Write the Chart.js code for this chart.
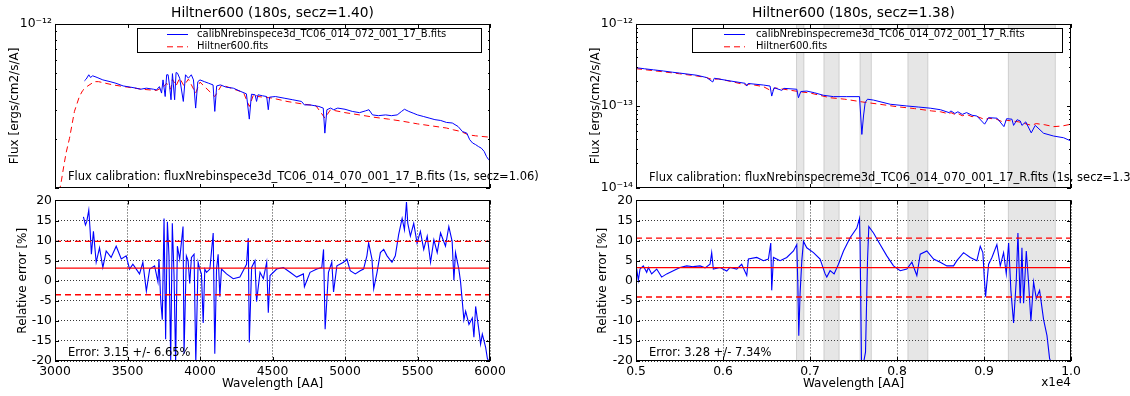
<!DOCTYPE html>
<html>
<head>
<meta charset="utf-8">
<script src="https://cdn.jsdelivr.net/npm/chart.js@4.4.0/dist/chart.umd.min.js"></script>
<style>
  body { margin: 0; background: #fff; width: 1130px; height: 396px; overflow: hidden; position: relative; }
  canvas { position: absolute; }
</style>
</head>
<body>
<canvas id="fluxB" width="565" height="200" style="left:0;top:0"></canvas>
<canvas id="errB" width="565" height="206" style="left:0;top:190px"></canvas>
<canvas id="fluxR" width="565" height="200" style="left:565px;top:0"></canvas>
<canvas id="errR" width="565" height="206" style="left:565px;top:190px"></canvas>
<script>
// flux values are in units of 1e-13 ergs/cm2/s/A
var FLUX_UNIT = 1e-13;

// ---- blue arm (left) ----
var wlObsB = [3203,3215,3233,3245,3260,3290,3330,3380,3420,3470,
  3520,3560,3590,3630,3680,3700,3720,3735,3745,3760,
  3770,3780,3790,3800,3810,3825,3835,3845,3860,3885,
  3900,3920,3940,3955,3970,3985,4000,4030,4060,4090,
  4102,4115,4140,4180,4230,4280,4320,4340,4355,4380,
  4390,4400,4430,4460,4471,4480,4520,4580,4640,4700,
  4720,4760,4820,4850,4861,4875,4900,4922,4950,5000,
  5050,5100,5140,5165,5190,5230,5280,5320,5360,5390,
  5410,5440,5470,5500,5540,5580,5620,5660,5700,5740,
  5780,5810,5840,5860,5880,5900,5920,5940,5960,5975,
  5990,6000];
var fluxObsB = [4.50,4.61,4.90,4.72,4.83,4.72,4.56,4.45,4.35,4.19,
  4.12,4.06,4.00,4.06,4.00,3.96,4.15,3.79,4.56,3.61,
  4.90,4.90,4.20,3.45,4.98,3.45,5.06,5.01,4.67,3.37,
  4.90,4.67,4.90,4.56,3.07,4.45,4.56,4.45,4.35,4.25,
  2.93,4.19,4.25,4.12,4.06,3.88,3.75,2.63,3.73,3.70,
  3.37,3.70,3.65,3.61,3.00,3.58,3.61,3.53,3.45,3.37,
  3.21,3.21,3.14,3.07,2.16,3.00,3.07,3.00,3.07,3.02,
  2.93,2.88,2.95,3.00,2.79,2.76,2.79,2.76,2.79,2.93,
  3.02,2.93,2.86,2.79,2.73,2.67,2.61,2.58,2.51,2.49,
  2.37,2.21,2.16,1.97,1.88,1.84,1.79,1.75,1.67,1.56,
  1.49,1.52];
var wlRefB = [3030,3045,3060,3076,3100,3134,3168,3191,3226,3272,
  3300,3400,3500,3600,3700,3750,3770,3798,3810,3835,
  3860,3889,3920,3970,4000,4102,4150,4300,4340,4370,
  4400,4500,4600,4700,4800,4861,4900,5000,5100,5200,
  5300,5400,5500,5600,5700,5750,5800,5850,5900,6000];
var fluxRefB = [0.95,1.12,1.35,1.63,2.01,2.93,3.61,3.93,4.19,4.45,
  4.45,4.25,4.12,4.00,3.93,4.15,4.35,4.00,4.60,4.20,
  4.67,4.20,4.61,3.79,4.42,3.61,4.25,3.82,3.14,3.73,
  3.61,3.53,3.37,3.26,3.17,2.67,3.00,2.88,2.79,2.70,
  2.63,2.55,2.46,2.39,2.32,2.26,2.21,2.11,2.08,2.04];
var wlErrB = [3196,3210,3219,3233,3242,3251,3265,3284,3307,3330,
  3353,3387,3422,3457,3491,3514,3537,3583,3606,3630,
  3653,3687,3710,3717,3729,3740,3752,3763,3775,3786,
  3798,3809,3821,3832,3844,3860,3883,3890,3906,3918,
  3929,3941,3959,3971,3987,3998,4010,4022,4033,4045,
  4068,4091,4102,4114,4125,4137,4148,4183,4229,4275,
  4321,4333,4340,4356,4379,4390,4414,4437,4460,4471,
  4483,4529,4575,4621,4667,4713,4720,4759,4806,4840,
  4852,4863,4886,4909,4921,4944,4990,5013,5036,5071,
  5105,5128,5151,5163,5186,5198,5221,5244,5267,5290,
  5324,5347,5370,5394,5410,5424,5433,5451,5474,5497,
  5520,5543,5567,5590,5613,5636,5659,5693,5716,5739,
  5751,5762,5785,5797,5809,5820,5832,5855,5878,5889,
  5901,5924,5935,5947,5970,5982,5995];
var errB = [15.9,13.9,14.7,17.6,12.7,6.6,12.3,4.6,8.2,3.3,
  7.4,5.8,8.6,5.4,6.2,2.9,4.1,1.7,4.6,-2.6,
  2.9,3.7,-0.3,5.4,-4.8,-9.7,15.5,-14.6,14.7,6.2,
  -19.8,14.3,1.3,-20.5,8.6,5.4,13.5,-18.2,6.2,5.0,
  -0.7,5.8,6.6,-20.5,4.6,2.9,1.7,-10.5,2.9,2.1,
  2.9,11.9,-18.2,2.9,6.6,-4.0,2.9,1.7,0.5,0.9,
  4.1,10.6,-15.4,3.3,5.0,-5.2,2.1,0.5,4.6,-8.0,
  1.3,2.9,3.3,2.1,0.9,1.7,-1.5,2.1,2.9,3.3,
  7.8,-12.1,2.1,4.6,-2.8,3.7,4.6,5.4,2.5,1.7,
  2.5,2.9,6.2,9.4,5.4,-2.0,2.1,7.0,7.8,6.2,
  4.6,6.2,11.5,15.5,12.7,19.6,14.3,11.1,14.3,9.4,
  12.3,7.8,11.1,4.6,10.2,7.0,11.9,8.6,13.5,9.8,
  0.1,7.0,2.9,-0.3,-5.2,-9.7,-7.6,-10.9,-9.3,-14.1,
  -6.4,-12.5,-15.8,-13.3,-16.6,-19.4,-20.2];
var errMeanB = 3.15, errStdB = 6.65;

// ---- red arm (right) ----
var wlObsR = [5000,5100,5200,5314,5420,5500,5698,5813,5882,5900,
  6081,6254,6273,6290,6465,6541,6560,6587,6676,6700,
  6848,6867,6894,6963,7050,7155,7270,7423,7569,7596,
  7615,7634,7661,7730,7922,8113,8250,8382,8500,8598,
  8620,8665,8700,8750,8800,8863,8918,9007,9053,9150,
  9229,9260,9321,9340,9380,9417,9436,9480,9543,9589,
  9685,9800,9915,10000];
var fluxObsR = [2.93,2.84,2.76,2.67,2.58,2.52,2.37,2.22,1.96,2.18,
  2.02,1.89,1.75,1.88,1.80,1.75,1.32,1.67,1.55,1.64,
  1.60,1.26,1.50,1.52,1.45,1.35,1.30,1.30,1.30,0.45,
  0.755,1.10,1.21,1.18,1.05,1.00,0.97,0.94,0.90,0.83,
  0.87,0.81,0.85,0.79,0.83,0.77,0.755,0.60,0.72,0.71,
  0.56,0.70,0.69,0.58,0.68,0.656,0.58,0.64,0.47,0.58,
  0.465,0.43,0.41,0.374];
var wlRefR = [5000,5300,5500,5700,5810,5876,5950,6100,6270,6300,
  6465,6560,6600,6700,6870,7000,7231,7400,7600,7800,
  8000,8200,8400,8500,8598,8620,8665,8700,8750,8800,
  8863,8900,9015,9050,9148,9229,9260,9400,9546,9600,
  9700,9800,9900,10000];
var fluxRefR = [2.85,2.62,2.47,2.32,2.22,2.10,2.14,1.98,1.80,1.85,
  1.72,1.52,1.66,1.60,1.50,1.44,1.26,1.21,1.12,1.05,
  0.98,0.93,0.87,0.85,0.80,0.83,0.79,0.81,0.76,0.79,
  0.74,0.76,0.68,0.71,0.687,0.63,0.67,0.64,0.58,0.61,
  0.59,0.56,0.57,0.60];
var wlErrR = [5000,5008,5027,5046,5084,5123,5142,5180,5238,5295,
  5353,5429,5506,5583,5659,5736,5794,5851,5870,5889,
  5966,6043,6081,6158,6215,6273,6292,6388,6465,6522,
  6549,6560,6580,6656,6733,6810,6848,6860,6871,6886,
  6906,6925,6963,7040,7116,7174,7193,7231,7277,7327,
  7385,7461,7538,7569,7576,7592,7615,7638,7661,7676,
  7730,7806,7883,7960,8037,8113,8171,8228,8267,8343,
  8420,8497,8573,8650,8688,8765,8842,8918,8957,8987,
  9003,9018,9053,9091,9148,9187,9225,9256,9283,9309,
  9340,9371,9390,9417,9436,9455,9486,9513,9539,9570,
  9601,9639,9685,9724,9754,9769];
var errR = [1.3,2.9,0.1,2.9,3.7,2.1,3.3,1.7,2.9,0.9,
  1.7,2.5,3.3,3.7,3.5,3.7,3.2,4.1,7.0,2.9,
  3.3,2.4,3.3,2.9,4.1,1.3,5.4,5.8,5.0,5.4,
  9.4,-2.4,5.8,5.0,5.8,7.4,9.0,-0.7,-13.7,-3.2,
  5.0,9.8,8.2,7.0,5.4,1.7,0.9,2.5,1.7,4.1,
  7.4,10.7,13.1,15.5,9.0,-20.5,-20.5,-17.8,5.0,13.5,
  11.9,9.0,6.2,3.7,2.5,2.9,4.6,1.3,6.6,7.4,
  5.4,4.6,3.7,3.7,5.0,7.0,5.8,5.0,8.6,7.0,
  0.9,-4.0,4.1,5.8,9.0,3.7,7.0,1.7,9.4,-2.4,
  -10.5,0.1,11.9,-5.6,8.2,-5.6,7.4,-0.7,-10.1,-0.3,
  -4.4,-2.4,-9.7,-13.7,-19.4,-20.2];
var errMeanR = 3.28, errStdR = 7.34;

// telluric bands shaded on the red arm
var tellBands = [[6845,6930],[7160,7335],[7575,7705],[8125,8355],[9280,9820]];

// ticks
var xTicksB = [3000,3500,4000,4500,5000,5500,6000];
var xLabelsB = ['3000','3500','4000','4500','5000','5500','6000'];
var xTicksR = [5000,6000,7000,8000,9000,10000];
var xLabelsR = ['0.5','0.6','0.7','0.8','0.9','1.0'];
var errTicks = [-20,-15,-10,-5,0,5,10,15,20];
var logTicksB = [1,2,3,4,5,6,7,8,9,10];
var logTicksR = [0.1,0.2,0.3,0.4,0.5,0.6,0.7,0.8,0.9,1,2,3,4,5,6,7,8,9,10];

Chart.defaults.font.family = "'DejaVu Sans', sans-serif";
Chart.defaults.font.size = 12;
Chart.defaults.color = '#000';

function pts(xs, ys, k) {
  return xs.map(function (x, i) { return { x: x, y: ys[i] * (k || 1) }; });
}

function hline(x0, x1, v) {
  return [{ x: x0, y: v }, { x: x1, y: v }];
}

function sup(n) {
  var m = { '-': '\u207B', '0': '\u2070', '1': '\u00B9', '2': '\u00B2', '3': '\u00B3', '4': '\u2074',
    '5': '\u2075', '6': '\u2076', '7': '\u2077', '8': '\u2078', '9': '\u2079' };
  return String(n).split('').map(function (c) { return m[c]; }).join('');
}

function isDecade(v) {
  var e = Math.log10(v);
  return Math.abs(e - Math.round(e)) < 1e-6;
}

// frame, inward ticks, legend box, bands and free text
function decor(o) {
  return {
    id: 'decor',
    beforeDatasetsDraw: function (chart) {
      if (!o.bands) return;
      var ctx = chart.ctx, a = chart.chartArea, x = chart.scales.x;
      ctx.save();
      ctx.beginPath();
      ctx.rect(a.left, a.top, a.width, a.height);
      ctx.clip();
      o.bands.forEach(function (b) {
        var x0 = x.getPixelForValue(b[0]), x1 = x.getPixelForValue(b[1]);
        ctx.fillStyle = 'rgba(128,128,128,0.2)';
        ctx.fillRect(x0, a.top, x1 - x0, a.height);
        ctx.strokeStyle = 'rgba(128,128,128,0.3)';
        ctx.lineWidth = 1;
        ctx.strokeRect(x0, a.top - 2, x1 - x0, a.height + 4);
      });
      ctx.restore();
    },
    afterDraw: function (chart) {
      var ctx = chart.ctx, a = chart.chartArea, x = chart.scales.x, y = chart.scales.y;
      ctx.save();
      ctx.strokeStyle = '#000';
      ctx.lineWidth = 1;
      ctx.setLineDash([]);
      ctx.beginPath();
      x.ticks.forEach(function (t) {
        var px = Math.round(x.getPixelForValue(t.value)) + 0.5;
        ctx.moveTo(px, a.bottom); ctx.lineTo(px, a.bottom - 4);
        ctx.moveTo(px, a.top); ctx.lineTo(px, a.top + 4);
      });
      y.ticks.forEach(function (t) {
        var py = Math.round(y.getPixelForValue(t.value)) + 0.5;
        var len = (o.log && !isDecade(t.value)) ? 2 : 4;
        ctx.moveTo(a.left, py); ctx.lineTo(a.left + len, py);
        ctx.moveTo(a.right, py); ctx.lineTo(a.right - len, py);
      });
      ctx.stroke();
      ctx.strokeRect(Math.round(a.left) + 0.5, Math.round(a.top) + 0.5,
        Math.round(a.width) - 1, Math.round(a.height) - 1);

      if (o.legend) {
        var L = o.legend;
        ctx.fillStyle = '#fff';
        ctx.fillRect(L.x, L.y, L.w, L.h);
        ctx.strokeRect(L.x + 0.5, L.y + 0.5, L.w, L.h);
        ctx.font = "10px 'DejaVu Sans'";
        ctx.textBaseline = 'middle';
        ctx.textAlign = 'left';
        var rows = chart.data.datasets.filter(function (d) { return d.label; });
        rows.forEach(function (d, i) {
          var yy = L.y + 6.5 + i * 12.3;
          ctx.strokeStyle = d.borderColor;
          ctx.lineWidth = d.borderWidth;
          ctx.setLineDash(d.borderDash || []);
          ctx.beginPath();
          ctx.moveTo(L.lineX, yy); ctx.lineTo(L.lineX + 21, yy);
          ctx.stroke();
          ctx.fillStyle = '#000';
          ctx.fillText(d.label, L.textX, yy);
        });
        ctx.setLineDash([]);
      }
      ctx.fillStyle = '#000';
      ctx.textBaseline = 'alphabetic';
      (o.texts || []).forEach(function (t) {
        ctx.font = (t.size || 11.5) + "px 'DejaVu Sans'";
        ctx.textAlign = t.align || 'left';
        ctx.fillText(t.text, t.x, t.y);
      });
      ctx.restore();
    }
  };
}

function fluxChart(id, cfg) {
  return new Chart(document.getElementById(id), {
    type: 'line',
    data: { datasets: [
      { label: cfg.obsLabel, data: pts(cfg.wlObs, cfg.fluxObs, FLUX_UNIT),
        borderColor: '#0000ff', borderWidth: 1 },
      { label: 'Hiltner600.fits', data: pts(cfg.wlRef, cfg.fluxRef, FLUX_UNIT),
        borderColor: '#ff0000', borderWidth: 1, borderDash: [6, 4] }
    ] },
    options: {
      responsive: false, animation: false, devicePixelRatio: 1,
      elements: { point: { radius: 0 }, line: { tension: 0, fill: false } },
      layout: { padding: { left: 0, right: cfg.padRight, top: 0, bottom: 12 } },
      plugins: {
        legend: { display: false }, tooltip: { enabled: false },
        title: { display: true, text: cfg.title, fullSize: false, color: '#000',
          font: { size: 13.8, weight: 'normal' }, padding: { top: 5, bottom: 2.4 } }
      },
      scales: {
        x: {
          type: 'linear', min: cfg.xTicks[0], max: cfg.xTicks[cfg.xTicks.length - 1],
          afterBuildTicks: function (s) { s.ticks = cfg.xTicks.map(function (v) { return { value: v }; }); },
          afterFit: function (s) { s.height = 0; },
          ticks: { display: false },
          grid: { display: false, drawTicks: false },
          border: { display: false }
        },
        y: {
          type: 'logarithmic', min: cfg.logTicks[0] * FLUX_UNIT,
          max: cfg.logTicks[cfg.logTicks.length - 1] * FLUX_UNIT,
          afterBuildTicks: function (s) { s.ticks = cfg.logTicks.map(function (v) { return { value: v * FLUX_UNIT }; }); },
          afterFit: function (s) { s.width = cfg.axisWidth; },
          ticks: { autoSkip: false, padding: 3, color: '#000', font: { size: 12.4 },
            callback: function (v) {
              var e = Math.round(Math.log10(v));
              return (isDecade(v) && cfg.shownExp.indexOf(e) >= 0) ? '10' + sup(e) : '';
            } },
          grid: { display: false, drawTicks: false },
          border: { display: false },
          title: { display: true, text: 'Flux [ergs/cm2/s/A]', color: '#000',
            font: { size: 12 }, padding: { top: cfg.titlePad, bottom: 0 } }
        }
      }
    },
    plugins: [decor({ log: true, bands: cfg.bands, legend: cfg.legend, texts: cfg.texts })]
  });
}

function errChart(id, cfg) {
  var x0 = cfg.xTicks[0], x1 = cfg.xTicks[cfg.xTicks.length - 1];
  return new Chart(document.getElementById(id), {
    type: 'line',
    data: { datasets: [
      { data: hline(x0, x1, cfg.mean), borderColor: '#ff0000', borderWidth: 1.3 },
      { data: hline(x0, x1, cfg.mean + cfg.std), borderColor: '#ff0000', borderWidth: 1.3, borderDash: [6, 4] },
      { data: hline(x0, x1, cfg.mean - cfg.std), borderColor: '#ff0000', borderWidth: 1.3, borderDash: [6, 4] },
      { data: pts(cfg.wl, cfg.err), borderColor: '#0000ff', borderWidth: 1.1 }
    ] },
    options: {
      responsive: false, animation: false, devicePixelRatio: 1,
      elements: { point: { radius: 0 }, line: { tension: 0, fill: false } },
      layout: { padding: { left: 0, right: cfg.padRight, top: 8, bottom: 0 } },
      plugins: { legend: { display: false }, tooltip: { enabled: false }, title: { display: false } },
      scales: {
        x: {
          type: 'linear', min: x0, max: x1,
          afterBuildTicks: function (s) { s.ticks = cfg.xTicks.map(function (v) { return { value: v }; }); },
          afterFit: function (s) { s.height = 35; },
          ticks: { autoSkip: false, maxRotation: 0, padding: 3, color: '#000', font: { size: 12.4 },
            callback: function (v, i) { return cfg.xLabels[i]; } },
          grid: { color: '#000', lineWidth: 0.8, drawTicks: false },
          border: { display: false, dash: [1, 2] },
          title: { display: true, text: 'Wavelength [AA]', color: '#000',
            font: { size: 12 }, padding: { top: 0, bottom: 4.5 } }
        },
        y: {
          type: 'linear', min: -20, max: 20,
          afterBuildTicks: function (s) { s.ticks = errTicks.map(function (v) { return { value: v }; }); },
          afterFit: function (s) { s.width = cfg.axisWidth; },
          ticks: { autoSkip: false, padding: 3, color: '#000', font: { size: 12.4 } },
          grid: { color: '#000', lineWidth: 0.8, drawTicks: false },
          border: { display: false, dash: [1, 2] },
          title: { display: true, text: 'Relative error [%]', color: '#000',
            font: { size: 12 }, padding: { top: cfg.titlePad, bottom: 0 } }
        }
      }
    },
    plugins: [decor({ log: false, bands: cfg.bands, texts: cfg.texts })]
  });
}

fluxChart('fluxB', {
  title: 'Hiltner600 (180s, secz=1.40)',
  obsLabel: 'calibNrebinspece3d_TC06_014_072_001_17_B.fits',
  wlObs: wlObsB, fluxObs: fluxObsB, wlRef: wlRefB, fluxRef: fluxRefB,
  xTicks: xTicksB, logTicks: logTicksB, shownExp: [-12],
  axisWidth: 55, padRight: 75, titlePad: 8,
  legend: { x: 137, y: 28, w: 344, h: 24, lineX: 167, textX: 197 },
  texts: [{ text: 'Flux calibration: fluxNrebinspece3d_TC06_014_070_001_17_B.fits (1s, secz=1.06)', x: 68, y: 180 }]
});

errChart('errB', {
  wl: wlErrB, err: errB, mean: errMeanB, std: errStdB,
  xTicks: xTicksB, xLabels: xLabelsB,
  axisWidth: 55, padRight: 75, titlePad: 16,
  texts: [{ text: 'Error: ' + errMeanB.toFixed(2) + ' +/- ' + errStdB.toFixed(2) + '%', x: 68, y: 165.5 }]
});

fluxChart('fluxR', {
  title: 'Hiltner600 (180s, secz=1.38)',
  obsLabel: 'calibNrebinspecreme3d_TC06_014_072_001_17_R.fits',
  wlObs: wlObsR, fluxObs: fluxObsR, wlRef: wlRefR, fluxRef: fluxRefR,
  xTicks: xTicksR, logTicks: logTicksR, shownExp: [-14, -13, -12],
  axisWidth: 71, padRight: 59, titlePad: 24, bands: tellBands,
  legend: { x: 127, y: 28, w: 370, h: 24, lineX: 159, textX: 191 },
  texts: [{ text: 'Flux calibration: fluxNrebinspecreme3d_TC06_014_070_001_17_R.fits (1s, secz=1.38)', x: 84, y: 180.5 }]
});

errChart('errR', {
  wl: wlErrR, err: errR, mean: errMeanR, std: errStdR,
  xTicks: xTicksR, xLabels: xLabelsR,
  axisWidth: 71, padRight: 59, titlePad: 31, bands: tellBands,
  texts: [
    { text: 'Error: ' + errMeanR.toFixed(2) + ' +/- ' + errStdR.toFixed(2) + '%', x: 84, y: 165.5 },
    { text: 'x1e4', x: 506, y: 196, size: 12, align: 'right' }
  ]
});
</script>
</body>
</html>
